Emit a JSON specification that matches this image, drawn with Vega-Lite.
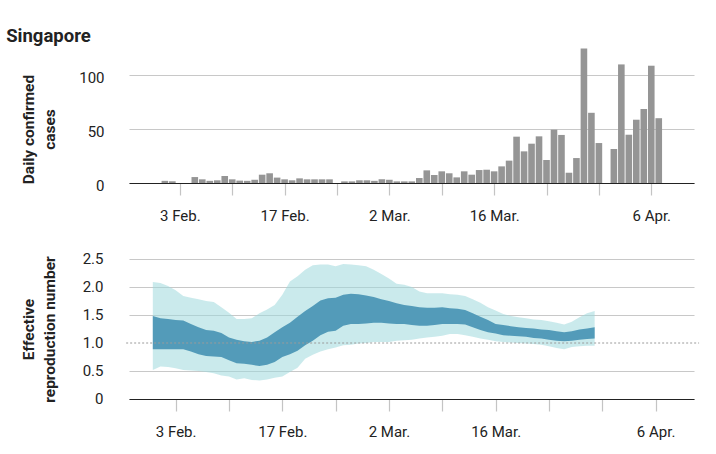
{
  "$schema": "https://vega.github.io/schema/vega-lite/v6.json",
  "padding": {"left": 6, "top": 26, "right": 10, "bottom": 10},
  "background": "white",
  "title": {"text": "Singapore", "anchor": "start", "font": "Roboto", "fontSize": 18.5, "fontWeight": "bold", "color": "#222222", "dx": -15, "offset": 3},
  "config": {
    "view": {"stroke": null},
    "font": "Roboto",
    "axis": {"labelFont": "Roboto", "labelFontSize": 15, "labelColor": "#222222", "titleFont": "Roboto", "titleFontSize": 15.5, "titleFontWeight": "bold", "titleColor": "#222222"}
  },
  "spacing": 28,
  "datasets": {
    "cases": [
      {"date": "2020-02-01", "cases": 2}, {"date": "2020-02-02", "cases": 1.6},
      {"date": "2020-02-05", "cases": 5.5}, {"date": "2020-02-06", "cases": 3.4}, {"date": "2020-02-07", "cases": 2},
      {"date": "2020-02-08", "cases": 2.5}, {"date": "2020-02-09", "cases": 6.5}, {"date": "2020-02-10", "cases": 3.4},
      {"date": "2020-02-11", "cases": 2.2}, {"date": "2020-02-12", "cases": 2}, {"date": "2020-02-13", "cases": 3},
      {"date": "2020-02-14", "cases": 7.7}, {"date": "2020-02-15", "cases": 9}, {"date": "2020-02-16", "cases": 5},
      {"date": "2020-02-17", "cases": 3.4}, {"date": "2020-02-18", "cases": 2.5}, {"date": "2020-02-19", "cases": 4.3},
      {"date": "2020-02-20", "cases": 3.4}, {"date": "2020-02-21", "cases": 3.4}, {"date": "2020-02-22", "cases": 3.4},
      {"date": "2020-02-23", "cases": 3.4}, {"date": "2020-02-25", "cases": 1.5}, {"date": "2020-02-26", "cases": 1.5},
      {"date": "2020-02-27", "cases": 2.5}, {"date": "2020-02-28", "cases": 2.5}, {"date": "2020-02-29", "cases": 2},
      {"date": "2020-03-01", "cases": 3.5}, {"date": "2020-03-02", "cases": 3}, {"date": "2020-03-03", "cases": 1.5},
      {"date": "2020-03-04", "cases": 1.5}, {"date": "2020-03-05", "cases": 1.5}, {"date": "2020-03-06", "cases": 4.6},
      {"date": "2020-03-07", "cases": 11.7}, {"date": "2020-03-08", "cases": 7.4}, {"date": "2020-03-09", "cases": 10.8},
      {"date": "2020-03-10", "cases": 9}, {"date": "2020-03-11", "cases": 5.2}, {"date": "2020-03-12", "cases": 10.8},
      {"date": "2020-03-13", "cases": 7.7}, {"date": "2020-03-14", "cases": 12}, {"date": "2020-03-15", "cases": 12.3},
      {"date": "2020-03-16", "cases": 10.8}, {"date": "2020-03-17", "cases": 15.4}, {"date": "2020-03-18", "cases": 20.7},
      {"date": "2020-03-19", "cases": 42.9}, {"date": "2020-03-20", "cases": 29.3}, {"date": "2020-03-21", "cases": 36.4},
      {"date": "2020-03-22", "cases": 43.2}, {"date": "2020-03-23", "cases": 21.3}, {"date": "2020-03-24", "cases": 49.4},
      {"date": "2020-03-25", "cases": 44.5}, {"date": "2020-03-26", "cases": 9.5}, {"date": "2020-03-27", "cases": 23.1},
      {"date": "2020-03-28", "cases": 124.6}, {"date": "2020-03-29", "cases": 65}, {"date": "2020-03-30", "cases": 37},
      {"date": "2020-04-01", "cases": 31.5}, {"date": "2020-04-02", "cases": 109.8}, {"date": "2020-04-03", "cases": 44.7},
      {"date": "2020-04-04", "cases": 58.6}, {"date": "2020-04-05", "cases": 68.5}, {"date": "2020-04-06", "cases": 108.6},
      {"date": "2020-04-07", "cases": 60}
    ],
    "rt": [
      {"date": "2020-01-31", "lo95": 0.52, "lo50": 0.89, "hi50": 1.48, "hi95": 2.09},
      {"date": "2020-02-01", "lo95": 0.58, "lo50": 0.89, "hi50": 1.44, "hi95": 2.07},
      {"date": "2020-02-02", "lo95": 0.57, "lo50": 0.89, "hi50": 1.43, "hi95": 2.02},
      {"date": "2020-02-03", "lo95": 0.55, "lo50": 0.89, "hi50": 1.41, "hi95": 1.94},
      {"date": "2020-02-04", "lo95": 0.52, "lo50": 0.89, "hi50": 1.40, "hi95": 1.84},
      {"date": "2020-02-05", "lo95": 0.51, "lo50": 0.85, "hi50": 1.34, "hi95": 1.81},
      {"date": "2020-02-06", "lo95": 0.50, "lo50": 0.80, "hi50": 1.28, "hi95": 1.78},
      {"date": "2020-02-07", "lo95": 0.48, "lo50": 0.77, "hi50": 1.23, "hi95": 1.75},
      {"date": "2020-02-08", "lo95": 0.46, "lo50": 0.76, "hi50": 1.22, "hi95": 1.73},
      {"date": "2020-02-09", "lo95": 0.42, "lo50": 0.75, "hi50": 1.18, "hi95": 1.64},
      {"date": "2020-02-10", "lo95": 0.40, "lo50": 0.69, "hi50": 1.10, "hi95": 1.54},
      {"date": "2020-02-11", "lo95": 0.35, "lo50": 0.64, "hi50": 1.06, "hi95": 1.43},
      {"date": "2020-02-12", "lo95": 0.37, "lo50": 0.63, "hi50": 1.03, "hi95": 1.43},
      {"date": "2020-02-13", "lo95": 0.34, "lo50": 0.61, "hi50": 1.02, "hi95": 1.44},
      {"date": "2020-02-14", "lo95": 0.33, "lo50": 0.59, "hi50": 1.04, "hi95": 1.53},
      {"date": "2020-02-15", "lo95": 0.35, "lo50": 0.61, "hi50": 1.10, "hi95": 1.60},
      {"date": "2020-02-16", "lo95": 0.38, "lo50": 0.66, "hi50": 1.19, "hi95": 1.68},
      {"date": "2020-02-17", "lo95": 0.40, "lo50": 0.75, "hi50": 1.28, "hi95": 1.86},
      {"date": "2020-02-18", "lo95": 0.48, "lo50": 0.80, "hi50": 1.36, "hi95": 2.10},
      {"date": "2020-02-19", "lo95": 0.56, "lo50": 0.86, "hi50": 1.47, "hi95": 2.19},
      {"date": "2020-02-20", "lo95": 0.72, "lo50": 0.96, "hi50": 1.57, "hi95": 2.31},
      {"date": "2020-02-21", "lo95": 0.79, "lo50": 1.04, "hi50": 1.66, "hi95": 2.39},
      {"date": "2020-02-22", "lo95": 0.85, "lo50": 1.14, "hi50": 1.76, "hi95": 2.40},
      {"date": "2020-02-23", "lo95": 0.89, "lo50": 1.20, "hi50": 1.80, "hi95": 2.40},
      {"date": "2020-02-24", "lo95": 0.92, "lo50": 1.22, "hi50": 1.81, "hi95": 2.37},
      {"date": "2020-02-25", "lo95": 0.96, "lo50": 1.31, "hi50": 1.86, "hi95": 2.41},
      {"date": "2020-02-26", "lo95": 0.97, "lo50": 1.34, "hi50": 1.88, "hi95": 2.40},
      {"date": "2020-02-27", "lo95": 0.99, "lo50": 1.34, "hi50": 1.87, "hi95": 2.39},
      {"date": "2020-02-28", "lo95": 1.00, "lo50": 1.35, "hi50": 1.85, "hi95": 2.37},
      {"date": "2020-02-29", "lo95": 1.02, "lo50": 1.36, "hi50": 1.82, "hi95": 2.31},
      {"date": "2020-03-01", "lo95": 1.02, "lo50": 1.36, "hi50": 1.78, "hi95": 2.23},
      {"date": "2020-03-02", "lo95": 1.02, "lo50": 1.35, "hi50": 1.75, "hi95": 2.15},
      {"date": "2020-03-03", "lo95": 1.04, "lo50": 1.34, "hi50": 1.71, "hi95": 2.06},
      {"date": "2020-03-04", "lo95": 1.05, "lo50": 1.34, "hi50": 1.68, "hi95": 2.04},
      {"date": "2020-03-05", "lo95": 1.06, "lo50": 1.32, "hi50": 1.66, "hi95": 2.00},
      {"date": "2020-03-06", "lo95": 1.08, "lo50": 1.31, "hi50": 1.64, "hi95": 1.92},
      {"date": "2020-03-07", "lo95": 1.10, "lo50": 1.31, "hi50": 1.63, "hi95": 1.89},
      {"date": "2020-03-08", "lo95": 1.11, "lo50": 1.32, "hi50": 1.63, "hi95": 1.89},
      {"date": "2020-03-09", "lo95": 1.13, "lo50": 1.34, "hi50": 1.64, "hi95": 1.89},
      {"date": "2020-03-10", "lo95": 1.16, "lo50": 1.34, "hi50": 1.62, "hi95": 1.87},
      {"date": "2020-03-11", "lo95": 1.16, "lo50": 1.34, "hi50": 1.61, "hi95": 1.86},
      {"date": "2020-03-12", "lo95": 1.14, "lo50": 1.33, "hi50": 1.59, "hi95": 1.84},
      {"date": "2020-03-13", "lo95": 1.11, "lo50": 1.28, "hi50": 1.53, "hi95": 1.78},
      {"date": "2020-03-14", "lo95": 1.08, "lo50": 1.23, "hi50": 1.47, "hi95": 1.72},
      {"date": "2020-03-15", "lo95": 1.06, "lo50": 1.19, "hi50": 1.41, "hi95": 1.64},
      {"date": "2020-03-16", "lo95": 1.03, "lo50": 1.17, "hi50": 1.34, "hi95": 1.58},
      {"date": "2020-03-17", "lo95": 1.02, "lo50": 1.14, "hi50": 1.32, "hi95": 1.52},
      {"date": "2020-03-18", "lo95": 1.01, "lo50": 1.13, "hi50": 1.30, "hi95": 1.48},
      {"date": "2020-03-19", "lo95": 1.00, "lo50": 1.12, "hi50": 1.28, "hi95": 1.46},
      {"date": "2020-03-20", "lo95": 0.99, "lo50": 1.11, "hi50": 1.27, "hi95": 1.44},
      {"date": "2020-03-21", "lo95": 0.98, "lo50": 1.09, "hi50": 1.26, "hi95": 1.42},
      {"date": "2020-03-22", "lo95": 0.97, "lo50": 1.08, "hi50": 1.24, "hi95": 1.41},
      {"date": "2020-03-23", "lo95": 0.94, "lo50": 1.06, "hi50": 1.23, "hi95": 1.39},
      {"date": "2020-03-24", "lo95": 0.91, "lo50": 1.04, "hi50": 1.21, "hi95": 1.36},
      {"date": "2020-03-25", "lo95": 0.89, "lo50": 1.03, "hi50": 1.19, "hi95": 1.33},
      {"date": "2020-03-26", "lo95": 0.93, "lo50": 1.04, "hi50": 1.21, "hi95": 1.38},
      {"date": "2020-03-27", "lo95": 0.94, "lo50": 1.06, "hi50": 1.24, "hi95": 1.46},
      {"date": "2020-03-28", "lo95": 0.95, "lo50": 1.07, "hi50": 1.26, "hi95": 1.53},
      {"date": "2020-03-29", "lo95": 0.95, "lo50": 1.08, "hi50": 1.28, "hi95": 1.57}
    ],
    "ref": [{"r": 1, "start": "2020-01-27T12:00:00Z", "end": "2020-04-11T17:00:00Z"}]
  },
  "vconcat": [
    {
      "width": 565,
      "height": 108,
      "data": {"name": "cases"},
      "mark": {"type": "bar", "color": "#959595", "width": 6.6},
      "encoding": {
        "x": {
          "field": "date", "type": "temporal",
          "scale": {"type": "utc", "domain": [{"year": 2020, "month": 1, "date": 27, "hours": 21, "utc": true}, {"year": 2020, "month": 4, "date": 11, "hours": 1, "utc": true}]},
          "axis": {
            "title": null, "grid": false, "tickCount": 20,
            "values": [
              {"year": 2020, "month": 2, "date": 3, "utc": true}, {"year": 2020, "month": 2, "date": 10, "utc": true},
              {"year": 2020, "month": 2, "date": 17, "utc": true}, {"year": 2020, "month": 2, "date": 24, "utc": true},
              {"year": 2020, "month": 3, "date": 2, "utc": true}, {"year": 2020, "month": 3, "date": 9, "utc": true},
              {"year": 2020, "month": 3, "date": 16, "utc": true}, {"year": 2020, "month": 3, "date": 23, "utc": true},
              {"year": 2020, "month": 3, "date": 30, "utc": true}, {"year": 2020, "month": 4, "date": 6, "utc": true}
            ],
            "labelExpr": "indexof(['3 Feb.','17 Feb.','2 Mar.','16 Mar.','6 Apr.'], utcFormat(datum.value, '%-d %b.')) >= 0 ? utcFormat(datum.value, '%-d %b.') : ''",
            "tickSize": 12, "tickColor": "#c4c4c4", "tickWidth": 1.2,
            "domainColor": "#222222", "domainWidth": 1.2,
            "labelPadding": 13, "labelOverlap": false, "labelFlush": false
          }
        },
        "y": {
          "field": "cases", "type": "quantitative",
          "scale": {"domain": [0, 100], "nice": false},
          "axis": {
            "values": [0, 50, 100], "tickCount": 10, "title": ["Daily confirmed", "cases"],
            "grid": true, "gridColor": "#c8c8c8", "gridWidth": 1.2,
            "domain": false, "ticks": false, "labelPadding": 25, "labelOffset": 2, "labelOverlap": false,
            "titlePadding": 21, "titleLineHeight": 21
          }
        }
      }
    },
    {
      "width": 565,
      "height": 140,
      "layer": [
        {
          "data": {"name": "rt"},
          "mark": {"type": "area", "color": "#9fd9dc", "opacity": 0.55},
          "encoding": {
            "x": {
              "field": "date", "type": "temporal",
              "scale": {"type": "utc", "domain": [{"year": 2020, "month": 1, "date": 27, "hours": 21, "utc": true}, {"year": 2020, "month": 4, "date": 11, "hours": 1, "utc": true}]},
              "axis": {
                "title": null, "grid": false, "tickCount": 20,
                "values": [
                  {"year": 2020, "month": 2, "date": 3, "utc": true}, {"year": 2020, "month": 2, "date": 10, "utc": true},
                  {"year": 2020, "month": 2, "date": 17, "utc": true}, {"year": 2020, "month": 2, "date": 24, "utc": true},
                  {"year": 2020, "month": 3, "date": 2, "utc": true}, {"year": 2020, "month": 3, "date": 9, "utc": true},
                  {"year": 2020, "month": 3, "date": 16, "utc": true}, {"year": 2020, "month": 3, "date": 23, "utc": true},
                  {"year": 2020, "month": 3, "date": 30, "utc": true}, {"year": 2020, "month": 4, "date": 6, "utc": true}
                ],
                "labelExpr": "indexof(['3 Feb.','17 Feb.','2 Mar.','16 Mar.','6 Apr.'], utcFormat(datum.value, '%-d %b.')) >= 0 ? utcFormat(datum.value, '%-d %b.') : ''",
                "tickSize": 12, "tickColor": "#c4c4c4", "tickWidth": 1.2,
                "domainColor": "#222222", "domainWidth": 1.2,
                "labelPadding": 13, "labelOverlap": false, "labelFlush": false
              }
            },
            "y": {
              "field": "lo95", "type": "quantitative",
              "scale": {"domain": [0, 2.5], "nice": false},
              "axis": {
                "values": [0, 0.5, 1, 1.5, 2, 2.5], "tickCount": 12,
                "labelExpr": "datum.value == 0 ? '0' : format(datum.value, '.1f')",
                "title": ["Effective", "reproduction number"],
                "grid": true, "gridColor": "#c8c8c8", "gridWidth": 1.2,
                "gridOpacity": {"condition": {"test": "datum.value == 1", "value": 0}, "value": 1},
                "domain": false, "ticks": false, "labelPadding": 26, "labelOffset": -1, "labelOverlap": false,
                "titlePadding": 25, "titleLineHeight": 21
              }
            },
            "y2": {"field": "hi95"}
          }
        },
        {
          "data": {"name": "rt"},
          "mark": {"type": "area", "color": "#539bb9"},
          "encoding": {
            "x": {"field": "date", "type": "temporal"},
            "y": {"field": "lo50", "type": "quantitative"},
            "y2": {"field": "hi50"}
          }
        },
        {
          "data": {"name": "ref"},
          "mark": {"type": "rule", "color": "#9a9a9a", "strokeDash": [2, 2], "strokeWidth": 1},
          "encoding": {
            "x": {"field": "start", "type": "temporal"},
            "x2": {"field": "end"},
            "y": {"field": "r", "type": "quantitative"}
          }
        }
      ]
    }
  ]
}
